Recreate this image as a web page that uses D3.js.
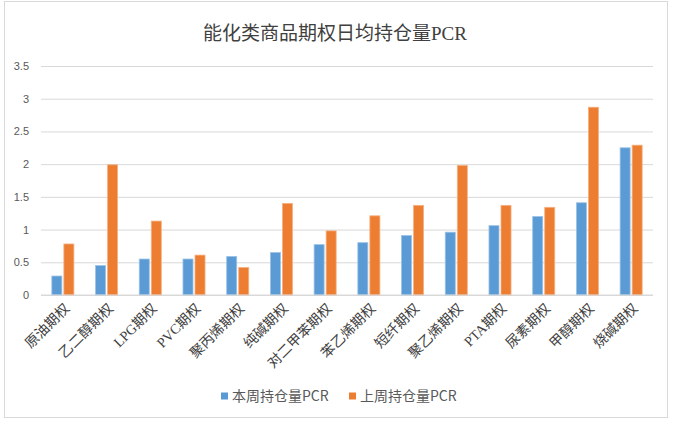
<!DOCTYPE html>
<html>
<head>
<meta charset="utf-8">
<script src="https://cdn.jsdelivr.net/npm/d3@7"></script>
<style>
  body { margin: 0; background: #ffffff; }
</style>
</head>
<body>
<div id="chart"></div>
<script>
// categories and the two series
const categories = ['原油期权', '乙二醇期权', 'LPG期权', 'PVC期权', '聚丙烯期权', '纯碱期权', '对二甲苯期权',
  '苯乙烯期权', '短纤期权', '聚乙烯期权', 'PTA期权', '尿素期权', '甲醇期权', '烧碱期权'];
const thisWeek = [0.29, 0.45, 0.55, 0.55, 0.59, 0.65, 0.77, 0.80, 0.91, 0.96, 1.06, 1.20, 1.41, 2.25];
const lastWeek = [0.78, 1.99, 1.13, 0.61, 0.42, 1.40, 0.98, 1.21, 1.37, 1.98, 1.37, 1.34, 2.87, 2.29];
const seriesNames = ['本周持仓量PCR', '上周持仓量PCR'];
const yTicks = [0, 0.5, 1, 1.5, 2, 2.5, 3, 3.5];

const colors = ['#5B9BD5', '#ED7D31'];
const edge = ['#9DC3E6', '#F4B183'];

// set the dimensions of the plot area
const W = 681, H = 426;
const plot = { left: 41, right: 653, top: 66, bottom: 295 };

const svg = d3
  .select('#chart')
  .append('svg')
  .attr('width', W)
  .attr('height', H);

// chart border
svg.append('rect')
  .attr('x', 4.5).attr('y', 1.5)
  .attr('width', 663).attr('height', 416)
  .attr('fill', '#fff')
  .attr('stroke', '#D9D9D9');

// title
svg.append('text')
  .attr('x', 335).attr('y', 33)
  .attr('text-anchor', 'middle')
  .attr('dominant-baseline', 'central')
  .style('font-family', '"Liberation Serif", "Noto Sans CJK SC"')
  .style('font-size', '19px')
  .style('fill', '#404040')
  .text('能化类商品期权日均持仓量PCR');

const x = d3.scaleBand()
  .domain(categories)
  .range([plot.left, plot.right])
  .paddingInner(0)
  .paddingOuter(0);

const y = d3.scaleLinear()
  .domain([0, 3.5])
  .range([plot.bottom, plot.top]);

// gridlines + y labels
const yAxis = svg.append('g')
  .attr('transform', `translate(${plot.left},0)`)
  .call(d3.axisLeft(y).tickValues(yTicks).tickFormat(d => d).tickSize(-(plot.right - plot.left)).tickPadding(12));
yAxis.select('.domain').remove();
yAxis.selectAll('.tick line').attr('stroke', '#D9D9D9');
yAxis.selectAll('.tick text')
  .style('font-family', '"Liberation Sans", Arial, sans-serif')
  .style('font-size', '11px')
  .style('fill', '#595959');

// bars (two per category, 10px wide with a 2px gap)
const inner = d3.scaleBand()
  .domain([0, 1])
  .range([0, x.bandwidth()])
  .paddingInner(0.167)
  .paddingOuter(0.9);

const rows = categories.map((c, i) => ({ cat: c, vals: [thisWeek[i], lastWeek[i]] }));

const groups = svg.append('g')
  .selectAll('g')
  .data(rows)
  .join('g')
  .attr('transform', d => `translate(${x(d.cat)},0)`);

groups.selectAll('rect')
  .data(d => d.vals.map((v, k) => ({ v, k })))
  .join('rect')
  .attr('x', d => inner(d.k))
  .attr('width', inner.bandwidth())
  .attr('y', d => y(d.v))
  .attr('height', d => y(0) - y(d.v))
  .attr('fill', d => colors[d.k])
  .attr('stroke', d => edge[d.k])
  .attr('stroke-width', 0.8);

// baseline
svg.append('line')
  .attr('x1', plot.left).attr('x2', plot.right)
  .attr('y1', y(0)).attr('y2', y(0))
  .attr('stroke', '#D9D9D9');

// rotated category labels
svg.append('g')
  .selectAll('text')
  .data(categories)
  .join('text')
  .attr('transform', d => `translate(${x(d) + x.bandwidth() / 2 + 4},${plot.bottom + 11}) rotate(-45)`)
  .attr('text-anchor', 'end')
  .attr('dy', '0.35em')
  .style('font-family', '"Liberation Serif", "Noto Sans CJK SC"')
  .style('font-size', '14px')
  .style('fill', '#404040')
  .text(d => d);

// legend
const legendX = [221, 349];
const legend = svg.append('g')
  .selectAll('g')
  .data(seriesNames)
  .join('g')
  .attr('transform', (d, i) => `translate(${legendX[i]},396)`);
legend.append('rect')
  .attr('x', 0).attr('y', -3.5)
  .attr('width', 7).attr('height', 7)
  .attr('fill', (d, i) => colors[i]);
legend.append('text')
  .attr('x', 11)
  .attr('dy', '0.35em')
  .style('font-family', '"Noto Sans CJK SC", sans-serif')
  .style('font-size', '14px')
  .style('fill', '#595959')
  .text(d => d);
</script>
</body>
</html>
